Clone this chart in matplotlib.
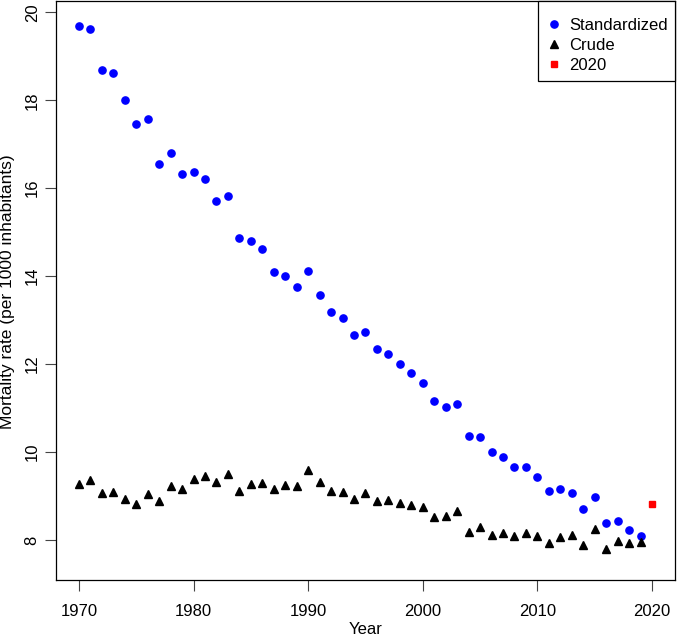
import matplotlib
matplotlib.use("Agg")
import matplotlib.pyplot as plt

plt.rcParams['font.family'] = ['Liberation Sans', 'DejaVu Sans']

# Standardized and crude mortality rate (per 1000 inhabitants), 1970-2019
years = list(range(1970, 2020))
standardized = [19.69, 19.63, 18.69, 18.62, 18.01, 17.47, 17.57, 16.54, 16.79, 16.32,
                16.38, 16.21, 15.71, 15.83, 14.86, 14.81, 14.62, 14.10, 14.00, 13.76,
                14.12, 13.57, 13.19, 13.04, 12.67, 12.72, 12.34, 12.24, 12.01, 11.80,
                11.58, 11.16, 11.03, 11.09, 10.37, 10.35, 10.00, 9.89, 9.65, 9.65,
                9.44, 9.11, 9.15, 9.08, 8.71, 8.97, 8.39, 8.43, 8.23, 8.10]
crude = [9.28, 9.37, 9.07, 9.10, 8.94, 8.83, 9.04, 8.89, 9.22, 9.17,
         9.38, 9.46, 9.32, 9.51, 9.12, 9.27, 9.30, 9.15, 9.24, 9.23,
         9.59, 9.31, 9.12, 9.09, 8.93, 9.07, 8.88, 8.91, 8.85, 8.80,
         8.76, 8.53, 8.55, 8.67, 8.19, 8.29, 8.12, 8.17, 8.09, 8.15,
         8.09, 7.93, 8.07, 8.11, 7.88, 8.24, 7.80, 7.98, 7.93, 7.96]
year_2020 = [2020]
value_2020 = [8.81]

xticks = [1970, 1980, 1990, 2000, 2010, 2020]
yticks = [8, 10, 12, 14, 16, 18, 20]

fig = plt.figure(figsize=(6.77, 6.37), dpi=100)
ax = fig.add_axes([0.0827, 0.0890, 0.9143, 0.9099])

ax.plot(years, standardized, 'o', color='#0000ff', markersize=5.2, label='Standardized')
ax.plot(years, crude, '^', color='black', markersize=5.6, label='Crude')
ax.plot(year_2020, value_2020, 's', color='#ff0000', markersize=4.8, label='2020')

ax.set_xlim(1968, 2022)
ax.set_ylim(7.084, 20.264)
ax.set_xticks(xticks)
ax.set_yticks(yticks)
ax.tick_params(axis='both', direction='out', length=7.7, width=0.8, labelsize=12, color='#444444')
ax.tick_params(axis='x', pad=9)
ax.tick_params(axis='y', pad=4)
plt.setp(ax.get_yticklabels(), rotation=90, va='center')

for s in ax.spines.values():
    s.set_linewidth(0.9)
    s.set_color('black')

fig.text(365.5 / 677, 1 - 630 / 637, 'Year', ha='center', va='center', fontsize=12)
fig.text(8 / 677, 1 - 292 / 637, 'Mortality rate (per 1000 inhabitants)', ha='center',
         va='center', rotation=90, fontsize=12.5)

# blank tiny title only adds a little room above the first entry, like R's legend box
leg = ax.legend(loc='upper right', bbox_to_anchor=(1, 1), borderaxespad=0,
                fancybox=False, framealpha=1, edgecolor='black', fontsize=12,
                handlelength=0.96, handletextpad=0.42, borderpad=0.45, labelspacing=0.32,
                title=' ', title_fontsize=3)
leg.get_frame().set_linewidth(0.9)

fig.savefig('out.png', dpi=100)
